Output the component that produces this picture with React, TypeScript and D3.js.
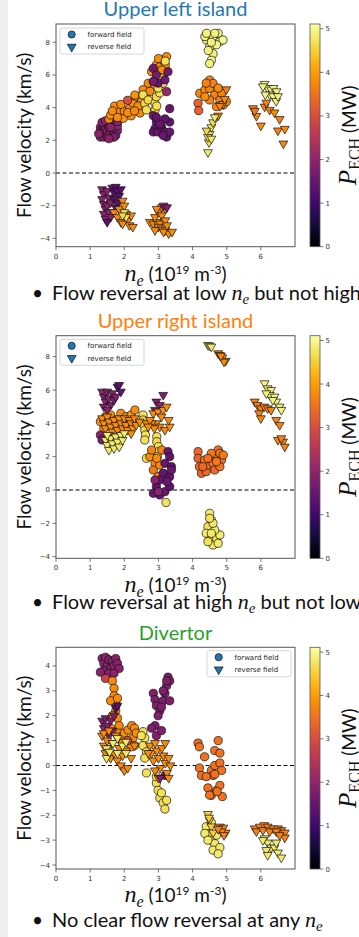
import React from "react";
import * as d3 from "d3";

// each point: [n_e (1e19 m^-3), flow velocity (km/s), P_ECH (MW)]
type Pt = [number, number, number];

const upperLeftForward: Pt[] = [
  [1.3, 2.2, 1.9], [1.3, 2.5, 1.8], [1.3, 2.8, 2.0], [1.35, 2.35, 1.9], [1.35, 2.65, 1.7], [1.4, 2.2, 1.9],
  [1.4, 2.5, 2.0], [1.4, 2.9, 1.8], [1.45, 2.4, 1.9], [1.45, 2.7, 1.9], [1.5, 2.2, 1.8], [1.5, 2.55, 2.0],
  [1.5, 3.0, 1.9], [1.55, 2.35, 1.9], [1.55, 2.8, 1.8], [1.6, 2.5, 1.9], [1.6, 3.1, 2.0], [1.65, 2.2, 1.9],
  [1.65, 2.7, 1.8], [1.7, 2.45, 1.9], [1.7, 2.95, 1.9], [1.75, 3.2, 1.8], [1.8, 2.6, 1.9], [1.8, 2.9, 2.0],
  [1.85, 3.3, 1.9], [1.75, 2.3, 1.9], [1.35, 3.1, 1.9], [1.45, 3.2, 2.0], [1.6, 2.8, 1.9], [1.7, 2.2, 1.8],
  [1.25, 2.4, 1.9], [1.55, 2.1, 1.9], [1.8, 3.15, 1.9],
  [1.55, 3.3, 3.8], [1.6, 3.55, 3.9], [1.72, 4.1, 3.8], [1.87, 3.75, 3.8], [1.97, 3.35, 3.9], [2.0, 3.8, 3.8],
  [2.16, 3.96, 3.8], [2.26, 4.27, 3.9], [2.36, 4.67, 3.8], [2.31, 4.77, 3.9], [2.46, 3.67, 3.8], [2.5, 4.36, 3.8],
  [2.65, 4.88, 3.9], [2.7, 5.49, 3.8], [2.85, 5.59, 3.9], [2.8, 6.2, 3.8], [2.9, 5.3, 3.8], [2.94, 6.61, 3.9],
  [2.99, 5.9, 3.8], [3.04, 6.5, 3.8], [3.14, 6.92, 3.9], [3.19, 6.2, 3.8], [3.24, 7.12, 3.8], [3.2, 6.6, 3.9],
  [2.2, 3.5, 3.8], [1.8, 3.4, 3.8], [2.4, 4.1, 3.8], [3.1, 5.5, 3.8], [1.9, 4.2, 3.8], [2.1, 3.7, 3.8],
  [2.3, 3.8, 3.8], [2.55, 5.1, 3.8], [2.75, 5.0, 3.8], [3.0, 7.0, 3.8], [3.1, 6.3, 3.8], [1.65, 3.8, 3.8],
  [2.1, 4.45, 3.0],
  [2.55, 4.78, 4.7], [2.6, 4.27, 4.6], [2.65, 3.86, 4.7], [2.7, 4.47, 4.6], [2.9, 4.27, 4.7], [2.94, 4.67, 4.6],
  [3.04, 4.9, 4.7], [2.9, 3.86, 4.6], [2.99, 5.2, 4.7], [3.14, 5.5, 4.7], [3.09, 5.8, 4.6], [3.2, 6.85, 4.7],
  [2.95, 4.1, 4.7],
  [2.85, 6.41, 1.6], [2.94, 6.0, 1.7], [2.99, 5.5, 1.5], [3.19, 5.7, 1.6], [3.28, 6.2, 1.6], [2.85, 5.6, 1.7],
  [3.24, 4.98, 2.1],
  [2.85, 3.51, 1.5], [2.94, 3.12, 1.4], [2.9, 2.72, 1.5], [2.85, 2.51, 1.4], [2.99, 2.51, 1.5], [3.09, 2.82, 1.4],
  [3.19, 2.51, 1.5], [3.24, 2.2, 1.4], [3.33, 2.51, 1.5], [3.33, 3.12, 1.4], [3.33, 3.94, 1.5], [3.19, 3.31, 1.4],
  [3.04, 3.0, 1.5], [2.94, 3.41, 1.4], [3.14, 2.3, 1.5],
  [4.41, 8.14, 4.9], [4.6, 8.35, 5.0], [4.75, 8.55, 4.9], [4.8, 8.05, 4.9], [4.89, 8.14, 5.0], [4.5, 7.73, 4.9],
  [4.6, 7.3, 4.9], [4.55, 6.9, 5.0], [4.5, 6.7, 4.9], [4.36, 8.35, 4.9], [4.46, 7.5, 4.9], [4.7, 7.85, 5.0],
  [4.65, 8.55, 4.9], [4.41, 8.55, 4.9], [4.55, 8.0, 4.9],
  [4.21, 4.88, 3.7], [4.36, 5.08, 3.8], [4.5, 5.69, 3.7], [4.5, 5.18, 3.8], [4.65, 4.78, 3.7], [4.8, 4.47, 3.7],
  [4.9, 4.16, 3.8], [4.7, 4.06, 3.7], [4.5, 4.47, 3.7], [4.36, 4.67, 3.8], [4.6, 5.49, 3.7], [4.85, 4.88, 3.7],
  [4.99, 4.37, 3.8], [4.4, 5.5, 3.7], [4.75, 5.2, 3.8], [4.16, 4.27, 3.3], [4.18, 3.82, 3.3],
];

const upperLeftReverse: Pt[] = [
  [4.99, 5.12, 3.7], [4.89, 4.22, 3.8], [4.75, 3.51, 3.7], [4.94, 4.53, 3.8], [4.8, 4.1, 3.7],
  [4.45, 1.27, 4.8], [4.48, 1.88, 4.7], [4.5, 2.39, 4.8], [4.55, 2.8, 4.8], [4.6, 3.1, 4.7], [4.65, 3.41, 4.8],
  [4.45, 2.2, 4.7], [4.41, 2.59, 4.6], [4.55, 2.1, 4.8],
  [6.11, 5.45, 4.9], [6.2, 5.2, 4.9], [6.3, 5.1, 5.0], [6.37, 5.2, 4.9], [6.46, 5.0, 4.9], [6.26, 4.8, 4.9],
  [6.36, 4.7, 5.0], [6.45, 4.4, 4.9], [6.13, 4.8, 4.9], [6.06, 5.3, 4.9], [6.5, 4.7, 4.9],
  [5.77, 3.96, 3.7], [5.87, 3.49, 3.7], [6.0, 2.9, 3.8], [6.11, 4.06, 3.7], [6.26, 3.86, 3.7], [6.4, 3.7, 3.8],
  [6.55, 3.3, 3.7], [6.5, 2.6, 3.7], [6.7, 2.7, 3.8], [6.66, 1.8, 3.7], [6.16, 4.3, 3.7], [5.82, 3.8, 3.6],
  [1.35, -1.0, 1.9], [1.4, -1.3, 1.9], [1.35, -1.6, 1.9], [1.4, -1.9, 1.9], [1.45, -2.2, 1.9], [1.4, -2.5, 1.9],
  [1.45, -2.8, 1.9], [1.5, -1.1, 1.9], [1.55, -1.5, 1.9], [1.5, -2.0, 1.9], [1.55, -2.4, 1.9], [1.6, -1.8, 1.9],
  [1.6, -2.7, 1.9], [1.65, -0.9, 1.3], [1.7, -1.2, 1.3], [1.75, -0.85, 1.3], [1.8, -1.1, 1.3], [1.85, -1.4, 1.3],
  [1.7, -1.6, 1.3], [1.8, -1.8, 1.3], [1.9, -1.0, 1.3], [1.75, -2.1, 1.3], [1.5, -3.0, 1.3],
  [1.7, -2.4, 3.8], [1.8, -2.7, 3.8], [1.85, -2.2, 3.8], [1.9, -3.0, 3.8], [1.95, -1.7, 3.8], [2.0, -2.0, 3.8],
  [2.05, -2.5, 3.8], [2.1, -2.9, 3.8], [2.15, -3.2, 3.8], [2.25, -3.3, 3.8], [2.2, -2.6, 3.8], [1.95, -3.1, 3.8],
  [2.0, -2.4, 4.7], [2.05, -2.7, 4.7], [1.95, -2.6, 4.6],
  [2.75, -3.0, 3.8], [2.85, -3.1, 3.8], [2.95, -3.0, 3.8], [3.05, -3.1, 3.8], [2.9, -2.7, 3.8], [3.0, -2.4, 3.8],
  [3.1, -2.1, 3.8], [3.2, -2.2, 3.8], [2.95, -2.2, 3.8], [3.1, -2.6, 3.8], [3.2, -2.9, 3.8], [3.0, -3.3, 3.8],
  [3.1, -3.4, 3.8], [3.2, -3.5, 3.8], [3.3, -3.7, 3.8], [3.4, -3.6, 3.8], [3.15, -3.6, 3.8], [3.25, -3.2, 3.8],
  [2.9, -3.5, 3.8], [3.15, -2.0, 1.8], [3.25, -2.1, 1.8],
];

const upperRightForward: Pt[] = [
  [1.45, 4.4, 3.8], [1.6, 4.5, 3.8], [1.75, 4.2, 3.9], [1.9, 4.6, 3.8], [2.05, 4.4, 3.8], [2.2, 4.5, 3.9],
  [2.31, 4.8, 3.8], [1.55, 3.9, 3.8], [1.3, 4.1, 3.8], [2.0, 3.9, 3.8], [1.4, 3.7, 3.8], [2.25, 4.1, 3.1],
  [2.55, 4.5, 4.7], [2.55, 4.2, 4.6], [2.57, 3.9, 4.7], [2.6, 3.6, 4.6], [2.62, 3.3, 4.7], [2.6, 3.0, 4.7],
  [2.65, 1.9, 4.6], [2.95, 3.2, 4.7], [2.95, 2.9, 4.6], [3.0, 2.6, 4.7], [3.0, 2.3, 4.7], [2.97, 2.0, 4.6],
  [2.75, 2.0, 3.8], [2.8, 2.4, 3.7], [2.9, 1.6, 3.8], [2.85, 1.2, 3.6], [3.04, 1.5, 3.8], [3.14, 1.0, 3.7],
  [2.99, 0.8, 3.8], [3.1, 2.4, 3.7], [2.95, 1.9, 3.8],
  [3.28, 2.3, 1.5], [3.33, 2.0, 1.4], [3.19, 1.6, 1.5], [3.38, 1.4, 1.4], [3.14, 1.0, 1.5], [3.33, 0.8, 1.4],
  [3.04, 0.6, 1.5], [2.94, 0.2, 1.4], [2.85, -0.2, 1.5], [3.04, -0.3, 1.4], [3.19, -0.1, 1.5], [3.33, 0.2, 1.4],
  [2.9, 0.6, 1.9], [3.38, 1.2, 1.5], [3.0, -0.1, 1.9], [3.25, 0.5, 1.5], [3.22, -0.75, 4.7],
  [1.3, 3.3, 1.9], [1.35, 3.0, 1.7],
  [4.16, 2.3, 3.4], [4.16, 1.9, 3.3], [4.2, 1.4, 3.4], [4.26, 1.0, 3.3], [4.4, 1.1, 3.4], [4.45, 1.5, 3.5],
  [4.5, 1.9, 3.4], [4.6, 1.6, 3.5], [4.7, 2.1, 3.6], [4.75, 2.4, 3.5], [4.8, 2.2, 3.6], [4.85, 1.8, 3.5],
  [4.9, 2.1, 3.6], [4.65, 1.2, 3.4], [4.35, 1.8, 3.5], [4.55, 2.2, 3.6], [4.3, 1.4, 3.4], [4.8, 1.4, 3.5],
  [4.45, 1.9, 3.5], [4.7, 1.7, 3.6],
  [4.5, -1.4, 4.8], [4.55, -1.8, 4.8], [4.45, -2.2, 4.7], [4.4, -2.6, 4.8], [4.5, -3.0, 4.8], [4.6, -3.3, 4.8],
  [4.7, -2.9, 4.7], [4.8, -2.7, 4.8], [4.65, -2.4, 4.8], [4.6, -2.0, 4.8], [4.75, -3.2, 4.8], [4.45, -3.1, 4.7],
  [4.55, -2.6, 4.8], [4.5, -1.7, 4.7],
];

const upperRightReverse: Pt[] = [
  [1.35, 5.9, 1.9], [1.4, 5.6, 1.8], [1.45, 5.3, 1.9], [1.5, 5.9, 1.8], [1.55, 5.5, 1.9], [1.6, 5.1, 1.8],
  [1.4, 5.0, 1.9], [1.65, 5.8, 1.9], [1.7, 5.4, 1.8], [1.75, 5.6, 1.9], [1.8, 6.2, 1.3], [1.85, 6.3, 1.3],
  [1.9, 5.9, 1.4], [1.5, 4.8, 1.9],
  [1.35, 4.3, 3.8], [1.4, 4.0, 3.8], [1.45, 3.7, 3.8], [1.5, 4.4, 3.8], [1.55, 4.1, 3.8], [1.6, 3.8, 3.8],
  [1.65, 3.5, 3.8], [1.7, 4.2, 3.8], [1.75, 3.9, 3.8], [1.8, 3.6, 3.8], [1.85, 4.3, 3.8], [1.9, 4.0, 3.8],
  [1.95, 3.7, 3.8], [2.0, 4.3, 3.8], [2.05, 3.9, 3.8], [2.1, 3.6, 3.8], [2.15, 4.2, 3.8], [2.2, 4.0, 3.8],
  [2.25, 3.7, 3.8], [2.3, 4.3, 3.8], [2.35, 3.9, 3.8], [2.45, 4.1, 3.8], [1.55, 3.3, 3.8], [1.7, 3.2, 3.8],
  [1.9, 3.3, 3.8], [2.2, 3.4, 3.8],
  [1.45, 3.0, 4.8], [1.5, 2.7, 4.8], [1.55, 2.4, 4.8], [1.6, 3.1, 4.8], [1.65, 2.8, 4.8], [1.7, 2.5, 4.8],
  [1.75, 3.2, 4.8], [1.8, 2.9, 4.8], [1.85, 2.6, 4.8], [1.9, 3.3, 4.8], [1.95, 3.0, 4.8], [2.0, 3.4, 4.8],
  [1.5, 3.3, 4.8],
  [2.94, 5.3, 1.8], [3.14, 5.7, 1.8], [3.04, 5.1, 1.9], [2.9, 4.8, 1.8],
  [2.85, 4.6, 3.8], [2.99, 4.7, 3.8], [3.14, 4.8, 3.9], [3.24, 5.0, 3.8], [3.09, 4.4, 3.8], [2.94, 4.0, 3.8],
  [2.8, 4.0, 3.8], [3.04, 3.8, 3.8], [3.19, 3.6, 3.8], [3.33, 3.8, 3.9], [2.88, 3.7, 3.8], [2.65, 4.0, 3.8],
  [2.75, 4.2, 3.8], [2.7, 3.8, 3.8], [3.3, 4.2, 3.8],
  [4.45, 8.7, 4.8], [4.5, 8.65, 4.9], [4.55, 8.6, 4.8], [4.75, 8.2, 3.8], [4.8, 8.1, 3.8], [4.87, 7.95, 3.8],
  [4.97, 7.75, 3.8], [4.92, 7.7, 3.8], [4.83, 8.05, 3.8],
  [6.11, 6.4, 4.9], [6.2, 6.1, 4.9], [6.3, 6.0, 4.9], [6.26, 5.7, 4.9], [6.4, 5.6, 4.9], [6.45, 5.3, 4.9],
  [6.55, 5.0, 4.9], [6.6, 4.8, 4.9], [6.16, 5.8, 4.9], [6.35, 5.4, 4.9],
  [5.82, 5.3, 3.7], [5.9, 5.1, 3.7], [6.0, 4.9, 3.7], [6.1, 5.0, 3.7], [6.2, 4.9, 3.7], [6.3, 4.8, 3.7],
  [5.95, 4.6, 3.7], [6.0, 4.3, 3.7], [6.45, 4.2, 3.7], [6.55, 3.9, 3.7], [6.5, 3.0, 3.7], [6.65, 2.9, 3.7],
  [6.7, 2.6, 3.7], [6.6, 3.1, 3.7],
];

const divertorForward: Pt[] = [
  [1.35, 4.3, 1.9], [1.4, 4.1, 1.9], [1.45, 4.35, 1.9], [1.5, 4.0, 1.9], [1.55, 4.25, 1.9], [1.6, 3.9, 1.9],
  [1.65, 4.2, 1.9], [1.7, 4.0, 1.9], [1.75, 4.3, 1.9], [1.8, 4.1, 1.9], [1.4, 3.8, 1.9], [1.55, 3.7, 1.9],
  [1.3, 3.75, 1.9], [1.85, 3.9, 1.9], [1.7, 3.7, 1.9], [1.45, 3.5, 2.8],
  [1.65, 3.4, 3.8], [1.7, 3.1, 3.8], [1.7, 2.8, 3.8], [1.75, 2.5, 3.8], [1.75, 2.2, 3.8], [1.8, 1.9, 3.8],
  [1.85, 1.6, 3.8], [1.85, 1.3, 3.8], [1.6, 2.6, 3.8], [1.8, 2.7, 3.8], [1.65, 2.0, 3.8], [1.9, 1.1, 3.8],
  [1.6, 1.5, 3.8], [1.95, 0.9, 3.8], [2.0, 1.3, 3.8],
  [2.11, 1.43, 3.8], [2.22, 1.6, 3.8], [2.3, 1.5, 3.8], [2.25, 1.1, 3.8], [2.3, 0.8, 3.8], [2.35, 1.3, 3.8],
  [2.2, 0.75, 3.8], [2.1, 1.0, 3.0],
  [2.55, 1.36, 4.7], [2.6, 1.1, 4.7], [2.55, 0.8, 4.7], [2.65, 0.55, 4.7], [2.6, 0.3, 4.7], [2.65, -0.3, 4.7],
  [2.5, 1.2, 4.7],
  [2.85, 2.9, 1.8], [2.9, 2.65, 1.8], [2.94, 2.4, 1.8], [3.04, 2.2, 1.8], [3.24, 3.2, 1.8], [3.28, 3.55, 1.8],
  [3.33, 3.4, 1.8], [3.19, 2.9, 1.8], [3.14, 2.6, 1.8], [3.33, 2.6, 1.8], [3.09, 2.35, 1.8], [2.99, 2.0, 1.8],
  [2.9, 1.6, 1.8], [2.94, 1.2, 1.8], [3.09, 1.4, 1.8], [2.8, 1.5, 1.8], [3.24, 3.4, 1.8], [3.14, 3.0, 1.8],
  [3.2, -0.4, 1.6],
  [2.94, -0.7, 4.7], [2.99, -1.0, 4.7], [3.04, -1.3, 4.7], [3.14, -1.5, 4.7], [3.19, -1.75, 4.7], [3.09, -1.1, 4.7],
  [3.24, -1.4, 4.7], [2.94, -0.45, 4.7],
  [4.16, 0.9, 3.5], [4.2, 0.75, 3.5], [4.35, 0.35, 3.5], [4.75, 1.0, 3.5], [4.65, 0.6, 3.5], [4.8, 0.5, 3.5],
  [4.2, -0.1, 3.5], [4.26, -0.4, 3.5], [4.55, -0.2, 3.5], [4.65, 0.0, 3.5], [4.8, 0.1, 3.5], [4.85, -0.2, 3.5],
  [4.6, -0.4, 3.5], [4.45, -0.9, 3.5], [4.55, -1.2, 3.5], [4.7, -1.0, 3.5], [4.8, -0.8, 3.5], [4.5, -1.19, 3.5],
  [4.87, -1.25, 3.5], [4.4, -0.45, 3.5], [4.72, -1.05, 3.5], [4.65, -0.35, 3.5],
  [4.4, -2.46, 4.8], [4.5, -2.73, 4.8], [4.55, -3.0, 4.8], [4.65, -3.14, 4.8], [4.6, -3.4, 4.8], [4.8, -3.3, 4.8],
  [4.75, -3.55, 4.8], [4.36, -2.73, 4.8], [4.45, -3.0, 4.8], [4.7, -2.8, 4.8], [4.55, -2.3, 4.8],
];

const divertorReverse: Pt[] = [
  [1.35, 1.8, 1.8], [1.4, 1.5, 1.9], [1.45, 1.9, 1.8], [1.5, 1.6, 1.8], [1.55, 1.2, 1.9], [1.6, 1.8, 1.8],
  [1.75, 2.3, 1.3], [1.7, 2.0, 1.8], [1.8, 2.4, 1.3], [1.65, 1.4, 1.8],
  [1.35, 1.2, 3.8], [1.4, 0.8, 3.8], [1.45, 0.5, 3.8], [1.5, 1.0, 3.8], [1.55, 0.7, 3.8], [1.6, 0.3, 3.8],
  [1.65, 0.9, 3.8], [1.7, 0.5, 3.8], [1.75, 1.2, 3.8], [1.8, 0.2, 3.8], [1.85, 0.7, 3.8], [1.9, 0.0, 3.8],
  [1.95, 0.4, 3.8], [2.0, -0.2, 3.8], [2.05, 0.6, 3.8], [2.1, -0.1, 3.8], [2.2, 0.3, 3.8], [2.3, 0.8, 3.8],
  [1.4, 1.3, 3.8], [1.55, 1.4, 3.8],
  [1.48, 0.69, 4.8], [1.67, 0.9, 4.8], [1.8, 0.5, 4.8], [1.95, 0.8, 4.8], [2.05, 0.5, 4.8], [1.8, 1.1, 4.8],
  [1.48, 0.3, 4.8], [1.57, 0.55, 4.8], [2.05, 0.95, 4.8],
  [2.75, 0.8, 3.8], [2.8, 0.5, 3.8], [2.85, 0.2, 3.8], [2.9, 0.9, 3.8], [2.95, 0.6, 3.8], [3.0, 0.3, 3.8],
  [3.05, -0.1, 3.8], [3.1, 0.7, 3.8], [3.15, 0.4, 3.8], [3.2, 0.1, 3.8], [3.25, -0.3, 3.8], [3.3, 0.3, 3.8],
  [3.35, 0.0, 3.8], [2.9, -0.2, 3.8], [3.0, -0.5, 3.8], [3.2, 0.9, 3.8], [3.3, -0.5, 3.8], [2.7, 0.5, 3.8],
  [3.05, -0.5, 1.8],
  [4.45, -1.95, 4.5], [4.5, -2.2, 4.5], [4.55, -2.45, 4.5], [4.48, -2.1, 4.5], [4.6, -2.7, 4.5],
  [4.8, -2.46, 3.7], [4.9, -2.5, 3.7], [4.97, -2.7, 3.7], [4.85, -2.65, 3.7], [4.92, -2.8, 3.7], [4.75, -2.55, 3.7],
  [5.82, -2.53, 3.7], [5.97, -2.46, 3.7], [6.1, -2.4, 3.7], [6.2, -2.46, 3.7], [6.36, -2.53, 3.7], [6.5, -2.53, 3.7],
  [6.6, -2.6, 3.7], [6.7, -2.7, 3.7], [6.7, -2.9, 3.7], [5.87, -2.65, 3.7], [6.06, -2.6, 3.7], [6.26, -2.65, 3.7],
  [6.45, -2.65, 3.7], [6.55, -2.8, 3.7],
  [6.11, -2.93, 4.8], [6.2, -3.1, 4.8], [6.3, -3.3, 4.8], [6.16, -3.4, 4.8], [6.2, -3.6, 4.8], [6.4, -3.3, 4.8],
  [6.5, -3.5, 4.8], [6.6, -3.7, 4.8], [6.06, -3.0, 4.8], [6.45, -3.1, 4.8],
];

const xTicks = [0, 1, 2, 3, 4, 5, 6];
const upperYTicks = [-4, -2, 0, 2, 4, 6, 8];
const divertorYTicks = [-4, -3, -2, -1, 0, 1, 2, 3, 4];
const colorbarTicks = [0, 1, 2, 3, 4, 5];

const PMAX = 5.11;
const color = d3.scaleSequential(d3.interpolateInferno).domain([0, PMAX]);
const triangle = d3.symbol().type(d3.symbolTriangle).size(34)() as string;

const SANS = "Lato, 'Open Sans', sans-serif";
const SERIF = "'Liberation Serif', 'DejaVu Serif', serif";
const TICK = "'DejaVu Sans', sans-serif";

const panels = [
  {
    id: "ul", title: "Upper left island", titleColor: "#1f77b4", titleY: 16,
    top: 24, bottom: 246.7, yDomain: [-4.51, 9.12], yTicks: upperYTicks,
    forward: upperLeftForward, reverse: upperLeftReverse,
    legendX: 60, legendY: 28, xLabelY: 281, bulletY: 300,
    bullet: ["Flow reversal at low ", " but not high"],
  },
  {
    id: "ur", title: "Upper right island", titleColor: "#ff7f0e", titleY: 328,
    top: 335.7, bottom: 558.3, yDomain: [-4.1, 9.26], yTicks: upperYTicks,
    forward: upperRightForward, reverse: upperRightReverse,
    legendX: 60, legendY: 339.3, xLabelY: 592, bulletY: 609,
    bullet: ["Flow reversal at high ", " but not low"],
  },
  {
    id: "dv", title: "Divertor", titleColor: "#2ca02c", titleY: 640,
    top: 647.3, bottom: 869, yDomain: [-4.16, 4.75], yTicks: divertorYTicks,
    forward: divertorForward, reverse: divertorReverse,
    legendX: 207, legendY: 650.7, xLabelY: 902, bulletY: 927,
    bullet: ["No clear flow reversal at any ", ""],
  },
];

const fmt = (v: number) => (v < 0 ? "\u2212" + Math.abs(v) : String(v));

function Panel({ cfg }: { cfg: any }) {
  const x = d3.scaleLinear().domain([0, 7]).range([56, 295]);
  const y = d3.scaleLinear().domain(cfg.yDomain).range([cfg.bottom, cfg.top]);
  const cb = d3.scaleLinear().domain([0, PMAX]).range([cfg.bottom, cfg.top]);
  const midY = (cfg.top + cfg.bottom) / 2;
  const cx = (x.range()[0] + x.range()[1]) / 2;
  const gradId = "grad-" + cfg.id;
  const stops = d3.range(0, 1.0001, 0.05);

  return (
    <g>
      <text x={cx} y={cfg.titleY} textAnchor="middle" fontFamily={SANS} fontSize={20} fill={cfg.titleColor}>
        {cfg.title}
      </text>

      {/* dashed zero line */}
      <line x1={x.range()[0]} x2={x.range()[1]} y1={y(0)} y2={y(0)} stroke="#000" strokeWidth={1.1} strokeDasharray="4 2.5" />

      {cfg.forward.map((d: Pt, i: number) => (
        <circle key={"f" + i} cx={x(d[0])} cy={y(d[1])} r={4.1} fill={color(d[2])} stroke="#111" strokeWidth={0.7} />
      ))}
      {cfg.reverse.map((d: Pt, i: number) => (
        <path key={"r" + i} d={triangle} transform={`translate(${x(d[0])},${y(d[1])}) rotate(180)`}
          fill={color(d[2])} stroke="#111" strokeWidth={0.7} />
      ))}

      <rect x={x.range()[0]} y={cfg.top} width={x.range()[1] - x.range()[0]} height={cfg.bottom - cfg.top}
        fill="none" stroke="#555" strokeWidth={1} />

      {cfg.yTicks.map((t: number) => (
        <g key={"y" + t}>
          <line x1={52.5} x2={56} y1={y(t)} y2={y(t)} stroke="#555" strokeWidth={0.8} />
          <text x={50} y={y(t) + 2.5} textAnchor="end" fontFamily={TICK} fontSize={7} fill="#333">{fmt(t)}</text>
        </g>
      ))}
      {xTicks.map((t) => (
        <g key={"x" + t}>
          <line x1={x(t)} x2={x(t)} y1={cfg.bottom} y2={cfg.bottom + 3.5} stroke="#555" strokeWidth={0.8} />
          <text x={x(t)} y={cfg.bottom + 12} textAnchor="middle" fontFamily={TICK} fontSize={7} fill="#333">{t}</text>
        </g>
      ))}

      {/* legend */}
      <g transform={`translate(${cfg.legendX},${cfg.legendY})`}>
        <rect width={84} height={26} rx={2} fill="#fff" fillOpacity={0.85} stroke="#ccc" strokeWidth={0.8} />
        <circle cx={11.7} cy={6.5} r={3.6} fill="#1f77b4" stroke="#111" strokeWidth={0.7} />
        <path d={triangle} transform="translate(11.7,18.8) rotate(180)" fill="#1f77b4" stroke="#111" strokeWidth={0.7} />
        <text x={27.5} y={9} fontFamily={TICK} fontSize={7} fill="#222">forward field</text>
        <text x={27.5} y={21.3} fontFamily={TICK} fontSize={7} fill="#222">reverse field</text>
      </g>

      {/* y label */}
      <text transform={`translate(31,${midY}) rotate(-90)`} textAnchor="middle" fontFamily={SANS} fontSize={19} fill="#111">
        Flow velocity (km/s)
      </text>

      {/* x label */}
      <text x={cx} y={cfg.xLabelY} textAnchor="middle" fontFamily={SANS} fontSize={19} fill="#111">
        <tspan fontFamily={SERIF} fontStyle="italic" fontSize={24}>n</tspan>
        <tspan fontFamily={SERIF} fontStyle="italic" fontSize={16} dy={5}>e</tspan>
        <tspan dy={-5}> (10</tspan>
        <tspan fontSize={12} dy={-7}>19</tspan>
        <tspan dy={7}> m</tspan>
        <tspan fontSize={12} dy={-7}>-3</tspan>
        <tspan dy={7}>)</tspan>
      </text>

      {/* bullet */}
      <text x={32} y={cfg.bulletY} fontFamily={SANS} fontSize={19} fill="#111">•</text>
      <text x={52} y={cfg.bulletY} fontFamily={SANS} fontSize={20} fill="#111">
        {cfg.bullet[0]}
        <tspan fontFamily={SERIF} fontStyle="italic" fontSize={22}>n</tspan>
        <tspan fontFamily={SERIF} fontStyle="italic" fontSize={15} dy={4}>e</tspan>
        <tspan dy={-4}>{cfg.bullet[1]}</tspan>
      </text>

      {/* colorbar */}
      <defs>
        <linearGradient id={gradId} x1="0" y1="1" x2="0" y2="0">
          {stops.map((s) => (
            <stop key={s} offset={s} stopColor={d3.interpolateInferno(s)} />
          ))}
        </linearGradient>
      </defs>
      <rect x={310} y={cfg.top} width={10} height={cfg.bottom - cfg.top} fill={`url(#${gradId})`} stroke="#555" strokeWidth={0.8} />
      {colorbarTicks.map((t) => (
        <g key={"c" + t}>
          <line x1={320} x2={323.5} y1={cb(t)} y2={cb(t)} stroke="#555" strokeWidth={0.8} />
          <text x={325.5} y={cb(t) + 2.5} fontFamily={TICK} fontSize={7} fill="#333">{t}</text>
        </g>
      ))}
      <text transform={`translate(356,${midY}) rotate(-90)`} textAnchor="middle" fontFamily={SANS} fontSize={19} fill="#111">
        <tspan fontFamily={SERIF} fontStyle="italic" fontSize={25}>P</tspan>
        <tspan fontFamily={SERIF} fontSize={16} dy={4}>ECH</tspan>
        <tspan dy={-4}> (MW)</tspan>
      </text>
    </g>
  );
}

export default function App() {
  return (
    <svg width={359} height={937} style={{ position: "absolute", left: 0, top: 0, background: "#fff" }}>
      <rect x={0} y={0} width={8} height={937} fill="#efefef" />
      {panels.map((p) => (
        <Panel key={p.id} cfg={p} />
      ))}
    </svg>
  );
}
